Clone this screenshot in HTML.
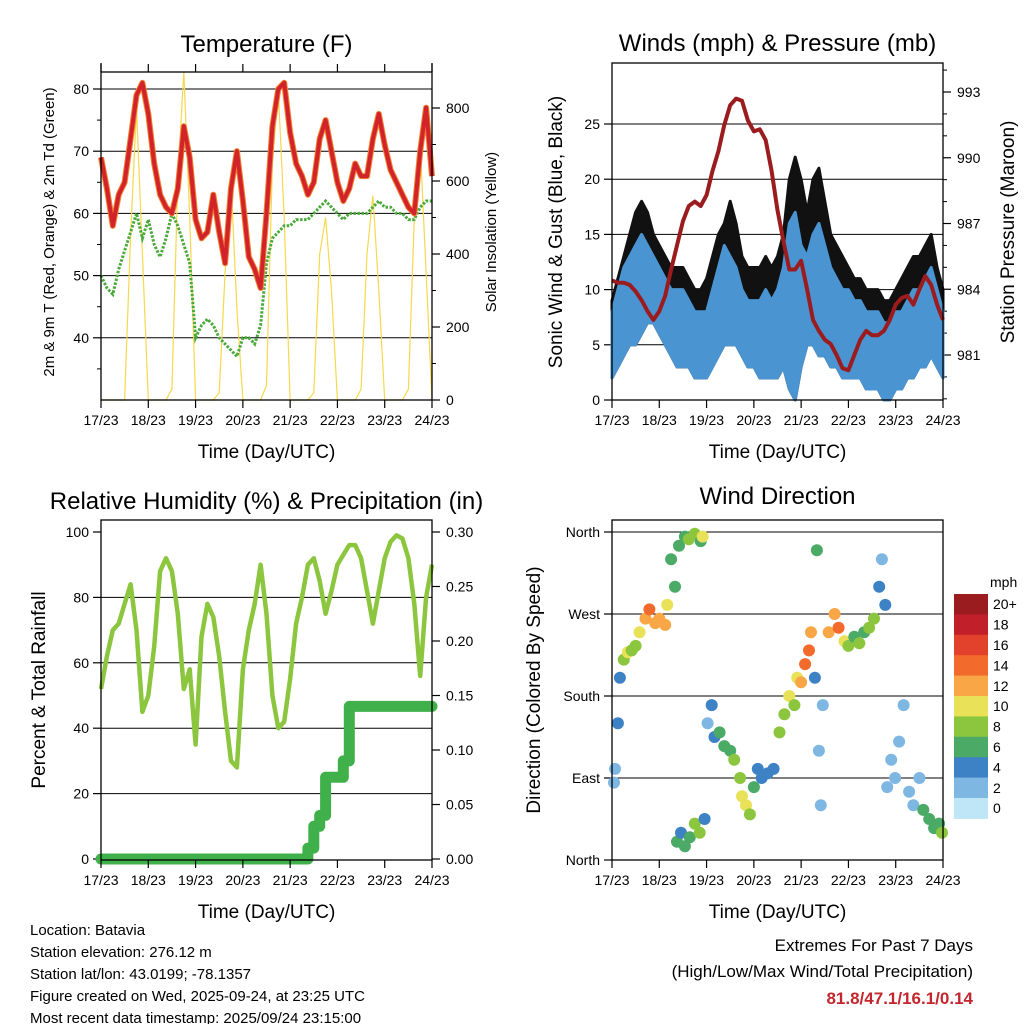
<!DOCTYPE html>
<html><head><meta charset="utf-8"><style>
body{margin:0;background:#fff;}
svg text{font-family:"Liberation Sans",Arial,sans-serif;fill:#000;}
</style></head><body>
<svg id="s" width="1024" height="1024" viewBox="0 0 1024 1024" xmlns="http://www.w3.org/2000/svg">
<g id="p1"></g>
<g id="p2"></g>
<g id="p3"></g>
<g id="p4"></g>
<g>
<text x="30" y="935" font-size="15">Location: Batavia</text>
<text x="30" y="957" font-size="15">Station elevation: 276.12 m</text>
<text x="30" y="979" font-size="15">Station lat/lon: 43.0199; -78.1357</text>
<text x="30" y="1001" font-size="15">Figure created on Wed, 2025-09-24, at 23:25 UTC</text>
<text x="30" y="1023" font-size="15">Most recent data timestamp: 2025/09/24 23:15:00</text>
<text x="973" y="951" font-size="17" text-anchor="end">Extremes For Past 7 Days</text>
<text x="973" y="977" font-size="17" text-anchor="end">(High/Low/Max Wind/Total Precipitation)</text>
<text x="973" y="1004" font-size="17" font-weight="bold" text-anchor="end" style="fill:#c4262e">81.8/47.1/16.1/0.14</text>
</g>
</svg>
<script>
const dayLabels=["17/23","18/23","19/23","20/23","21/23","22/23","23/23","24/23"];
const tempF=[69,64,58,63,65,72,79,81,76,68,63,61,60,64,74,69,59,56,57,63,57,52,64,70,62,53,51,48,60,74,80,81,73,68,66,63,65,72,75,70,65,62,64,68,66,66,72,76,71,67,65,63,61,60,70,77,66];
const dewF=[50,48,47,51,54,57,60,56,59,55,53,56,60,58,55,52,40,42,43,42,40,39,38,37,40,40,39,42,52,56,57,58,58,59,59,59,60,61,62,61,60,59,60,60,60,60,61,62,61,61,60,60,59,59,61,62,62];
const solarW=[0,0,0,0,0,450,800,400,0,0,0,0,30,600,900,500,0,0,0,0,20,350,600,250,0,0,0,0,40,650,850,500,0,0,0,0,20,400,500,300,0,0,0,0,30,400,560,300,0,0,0,0,30,500,700,350,0];
const pressMb=[984.4,984.3,984.3,984.2,983.9,983.5,983.0,982.6,983.0,983.7,984.9,986.0,987.1,987.8,988.0,987.8,988.3,989.4,990.3,991.5,992.4,992.7,992.6,991.7,991.2,991.3,990.8,989.4,987.6,986.2,984.9,984.9,985.3,984.0,982.6,982.1,981.7,981.5,981.0,980.4,980.3,981.0,981.7,982.1,981.9,981.9,982.1,982.6,983.3,983.6,983.7,983.3,984.0,984.6,984.2,983.3,982.6];
const windLo=[2,3,4,5,5,6,7,7,6,5,4,3,3,3,2,2,2,3,4,5,5,5,4,3,3,2,2,2,2,3,1,0,3,5,5,4,4,3,3,2,2,2,2,1,1,1,0,0,1,1,2,2,3,3,4,3,2];
const windHi=[8,10,12,13,14,15,14,13,12,11,10,10,10,9,8,8,8,10,12,14,13,12,10,9,9,9,10,9,10,12,16,17,14,13,15,16,14,12,11,10,10,9,9,8,8,8,7,7,8,8,9,10,10,11,12,10,8];
const gustHi=[9,11,13,15,17,18,17,15,14,13,12,12,12,11,10,10,11,13,15,16,18,16,13,12,12,12,13,12,13,15,20,22,20,17,20,21,18,15,14,13,12,11,11,10,10,10,9,9,10,11,12,13,13,14,15,12,10];
const rhPct=[52,62,70,72,78,84,70,45,50,65,88,92,88,75,52,58,35,68,78,74,62,45,30,28,58,70,78,90,75,50,40,42,55,72,80,90,92,85,75,82,90,93,96,96,92,82,72,82,92,97,99,98,92,78,56,80,90];
const precipIn=[0,0,0,0,0,0,0,0,0,0,0,0,0,0,0,0,0,0,0,0,0,0,0,0,0,0,0,0,0,0,0,0,0,0,0,0.01,0.03,0.04,0.075,0.075,0.075,0.09,0.14,0.14,0.14,0.14,0.14,0.14,0.14,0.14,0.14,0.14,0.14,0.14,0.14,0.14,0.14];
const dirHour=[1,1.5,3,4,6,8,10,12,14,17,19,22,24,27,28,30,32,34,37,39,42,45,46,33,35,37,39.5,42,44.5,47,48.5,50.6,52,54.6,57,60,62,65,66,68,70,72,74,76,79,82,85,87.5,90,92.6,94,96,98,100,101,103,104,105,106,107,110,113,115,118,120,123,125.5,128,130.5,133,135.6,137,138.7,139.7,141.7,143.7,145.7,148,150.8,153,156,158,161,163.5,166,167.5];
const dirDeg=[85,100,150,200,220,228,230,235,250,265,275,260,265,258,280,330,300,345,355,352,358,350,355,20,30,15,25,40,30,45,150,170,135,140,125,120,110,90,70,60,50,80,100,90,95,100,140,160,180,170,200,195,215,230,250,200,340,120,60,170,250,270,255,240,235,245,238,250,255,265,300,330,280,80,110,90,130,170,75,60,90,55,45,35,40,30];
const dirSpeed=[3,2,4,4,9,10,9,8,10,13,14,12,13,12,10,7,6,6,7,8,9,6,10,6,5,7,6,9,8,5,3,4,4,7,6,7,8,8,10,11,9,7,5,4,4,5,8,9,10,8,11,13,14,15,12,5,7,3,2,3,12,13,14,11,9,7,8,7,8,9,4,3,5,3,2,2,3,2,2,3,3,6,7,6,7,8];
const cbLabels=["20+","18","16","14","12","10","8","6","4","2","0"];
const cbColors=["#9b1c1f","#c1202a","#e2412b","#f26b2c","#f9a646","#e9e158","#8cc63f","#4aaa66","#3d82c4","#7fb7e3","#bfe6f7"];

const NS="http://www.w3.org/2000/svg";
function mk(parent,tag,attrs){const e=document.createElementNS(NS,tag);for(const k in attrs)e.setAttribute(k,attrs[k]);parent.appendChild(e);return e;}
function txt(parent,x,y,s,size,anchor,rot){const t=mk(parent,'text',{x:x,y:y,'font-size':size,'text-anchor':anchor||'middle'});if(rot)t.setAttribute('transform','rotate(-90 '+x+' '+y+')');t.textContent=s;return t;}
function scale(d0,d1,r0,r1){return v=>r0+(v-d0)/(d1-d0)*(r1-r0);}
function frame(g,x0,x1,y0,y1,xs,title,xtitle,topTicks,titleY){
  mk(g,'rect',{x:x0,y:y0,width:x1-x0,height:y1-y0,fill:'none',stroke:'#000','stroke-width':1.3});
  for(let d=0;d<=7;d++){const x=xs(d*24);
    mk(g,'line',{x1:x,x2:x,y1:y1,y2:y1+8,stroke:'#000','stroke-width':1.2});
    if(topTicks) mk(g,'line',{x1:x,x2:x,y1:y0,y2:y0-8,stroke:'#000','stroke-width':1.2});
    const t=txt(g,x,y1+25,dayLabels[d],14);
    
    }
  const tt=txt(g,(x0+x1)/2,titleY,title,24);
  
  
  const xt=txt(g,(x0+x1)/2,y1+58,xtitle,19);
  
  
}
function yticks(g,vals,labels,ys,xl,xr,side,grid){
  vals.forEach((v,i)=>{const y=ys(v);
    if(grid) mk(g,'line',{x1:xl,x2:xr,y1:y,y2:y,stroke:'#000','stroke-width':1});
    if(side==='l'){mk(g,'line',{x1:xl-8,x2:xl,y1:y,y2:y,stroke:'#000','stroke-width':1.2});
      const t=txt(g,xl-12,y+5,labels[i],14,'end');
      
      }
    else{mk(g,'line',{x1:xr,x2:xr+8,y1:y,y2:y,stroke:'#000','stroke-width':1.2});
      const t=txt(g,xr+14,y+5,labels[i],14,'start');
      
      }
  });
}
function minor(g,vals,ys,x,dir){vals.forEach(v=>{const y=ys(v);mk(g,'line',{x1:x,x2:x+dir*4,y1:y,y2:y,stroke:'#000','stroke-width':1});});}
function pathFrom(arr,xs,ys){return arr.map((v,i)=>(i?'L':'M')+xs(i*3).toFixed(1)+','+ys(v).toFixed(1)).join('');}

// Panel 1
(function(){
 const g=document.getElementById('p1');
 const x0=101,x1=432,y0=72,y1=400;
 const xs=scale(0,168,x0,x1), ys=scale(30,80,400,89), ys2=scale(0,800,400,108);
 yticks(g,[40,50,60,70,80],['40','50','60','70','80'],ys,x0,x1,'l',true);
 yticks(g,[0,200,400,600,800],['0','200','400','600','800'],ys2,x0,x1,'r',false);
 minor(g,[35,45,55,65,75],ys,x0,-1);
 minor(g,[100,300,500,700],ys2,x1,1);
 mk(g,'line',{x1:x0,x2:x0,y1:63,y2:y0,stroke:'#000','stroke-width':1.3});
 mk(g,'line',{x1:x1,x2:x1,y1:63,y2:y0,stroke:'#000','stroke-width':1.3});
 const sol=mk(g,'path',{d:pathFrom(solarW,xs,ys2),fill:'none',stroke:'#f6d84c','stroke-width':1.2});
 
 
 const dw=mk(g,'path',{d:pathFrom(dewF,xs,ys),fill:'none',stroke:'#4aaa3a','stroke-width':3,'stroke-dasharray':'2.5 1.5'});
 
 
 const t9=mk(g,'path',{d:pathFrom(tempF,xs,ys),fill:'none',stroke:'#f08030','stroke-width':6,'stroke-linejoin':'round'});
 
 
 const t2=mk(g,'path',{d:pathFrom(tempF,xs,ys),fill:'none',stroke:'#d2232a','stroke-width':4,'stroke-linejoin':'round'});
 
 
 frame(g,x0,x1,y0,y1,xs,'Temperature (F)','Time (Day/UTC)',true,52);
 const yl=txt(g,54,232,'2m & 9m T (Red, Orange) & 2m Td (Green)',15,'middle',true);
 
 
 const yr=txt(g,496,232,'Solar Insolation (Yellow)',15,'middle',true);
 
 
})();

// Panel 2
(function(){
 const g=document.getElementById('p2');
 const x0=612,x1=943,y0=63,y1=400;
 const xs=scale(0,168,x0,x1), ys=scale(0,25,400,124), ys2=scale(981,993,355,92);
 yticks(g,[5,10,15,20,25],['5','10','15','20','25'],ys,x0,x1,'l',true);
 yticks(g,[0],['0'],ys,x0,x1,'l',false);
 yticks(g,[981,984,987,990,993],['981','984','987','990','993'],ys2,x0,x1,'r',false);
 minor(g,[979,980,982,983,985,986,988,989,991,992,994],ys2,x1,1);
 function band(lo,hi,col,name){
   let d=lo.map((v,i)=>(i?'L':'M')+xs(i*3).toFixed(1)+','+ys(v).toFixed(1)).join('');
   for(let i=hi.length-1;i>=0;i--) d+='L'+xs(i*3).toFixed(1)+','+ys(hi[i]).toFixed(1);
   const p=mk(g,'path',{d:d+'Z',fill:col,stroke:col,'stroke-width':3,'stroke-linejoin':'round'});
   
   
 }
 band(windLo,gustHi,'#111','gust-band');
 band(windLo,windHi,'#4b94d2','sonic-wind-band');
 const pr=mk(g,'path',{d:pathFrom(pressMb,xs,ys2),fill:'none',stroke:'#9b1c1f','stroke-width':4,'stroke-linejoin':'round'});
 
 
 frame(g,x0,x1,y0,y1,xs,'Winds (mph) & Pressure (mb)','Time (Day/UTC)',false,51);
 const yl=txt(g,562,232,'Sonic Wind & Gust (Blue, Black)',19,'middle',true);
 
 
 const yr=txt(g,1014,232,'Station Pressure (Maroon)',19,'middle',true);
 
 
})();

// Panel 3
(function(){
 const g=document.getElementById('p3');
 const x0=101,x1=432,y0=520,y1=860;
 const xs=scale(0,168,x0,x1), ys=scale(0,100,859,532), ys2=scale(0,0.30,859,532);
 yticks(g,[20,40,60,80],['20','40','60','80'],ys,x0,x1,'l',true);
 yticks(g,[0,100],['0','100'],ys,x0,x1,'l',false);
 yticks(g,[0,0.05,0.10,0.15,0.20,0.25,0.30],['0.00','0.05','0.10','0.15','0.20','0.25','0.30'],ys2,x0,x1,'r',false);
 const rh=mk(g,'path',{d:pathFrom(rhPct,xs,ys),fill:'none',stroke:'#8cc63f','stroke-width':4.5,'stroke-linejoin':'round'});
 
 
 let d='';
 precipIn.forEach((v,i)=>{const x=xs(i*3),y=ys2(v);
   if(i){const py=ys2(precipIn[i-1]);d+='L'+x.toFixed(1)+','+py.toFixed(1)+'L'+x.toFixed(1)+','+y.toFixed(1);}else d='M'+x+','+y;});
 const pp=mk(g,'path',{d:d,fill:'none',stroke:'#3fb04a','stroke-width':11,'stroke-linecap':'round','stroke-linejoin':'round'});
 
 
 frame(g,x0,x1,y0,y1,xs,'Relative Humidity (%) & Precipitation (in)','Time (Day/UTC)',false,509);
 const yl=txt(g,45,690,'Percent & Total Rainfall',19,'middle',true);
 
 
})();

// Panel 4
(function(){
 const g=document.getElementById('p4');
 const x0=612,x1=943,y0=520,y1=860;
 const xs=scale(0,168,x0,x1), ys=scale(0,360,860,532);
 yticks(g,[90,180,270,360],['East','South','West','North'],ys,x0,x1,'l',true);
 yticks(g,[0],['North'],ys,x0,x1,'l',false);
 function col(s){let b=Math.min(10,Math.floor(s/2));return cbColors[10-b];}
 dirHour.forEach((h,i)=>{
   const c=mk(g,'circle',{cx:xs(h).toFixed(1),cy:ys(dirDeg[i]).toFixed(1),r:6,fill:col(dirSpeed[i])});
   
   
 });
 frame(g,x0,x1,y0,y1,xs,'Wind Direction','Time (Day/UTC)',false,504);
 const yl=txt(g,540,690,'Direction (Colored By Speed)',19,'middle',true);
 
 
 const cb=mk(g,'g',{});
 
 
 const h=20.4;
 cbColors.forEach((c,i)=>{
   const r=mk(cb,'rect',{x:954,y:(594+i*h).toFixed(1),width:34,height:h+0.5,fill:c});
   
   
   const t=txt(cb,993,(594+i*h+h/2+5).toFixed(1),cbLabels[i],14,'start');
   
   
 });
 const m=txt(cb,990,587,'mph',14,'start');
 
 
})();
</script>
</body></html>
